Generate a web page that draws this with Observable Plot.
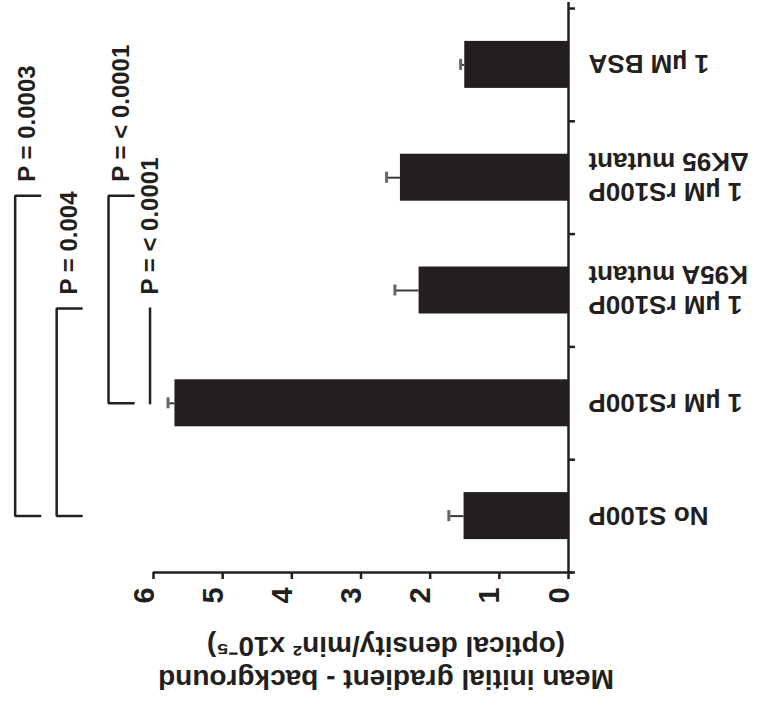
<!DOCTYPE html>
<html>
<head>
<meta charset="utf-8">
<script src="https://cdn.jsdelivr.net/npm/d3@7"></script>
<script src="https://cdn.jsdelivr.net/npm/@observablehq/plot@0.6"></script>
<style>
  html, body { margin: 0; padding: 0; background: #fff; }
  #chart svg { display: block; }
</style>
</head>
<body>
<div id="chart"></div>
<script>
// Treatment groups (index 0 sits next to the value axis), mean initial gradients and SEM
const groups = [
  "No S100P",
  "1 µM rS100P",
  "1 µM rS100P\nK95A mutant",
  "1 µM rS100P\nΔK95 mutant",
  "1 µM BSA"
];
const means = [1.51, 5.69, 2.16, 2.43, 1.50];
const errors = [0.22, 0.10, 0.35, 0.20, 0.06];

const valueTicks = [0, 1, 2, 3, 4, 5, 6];
const axisTitle = "Mean initial gradient - background\n(optical density/min² x10⁻⁵)";

// Pairwise comparisons: lower group, upper group, level on the value axis, p-value
const compareFrom = ["No S100P", "No S100P", "1 µM rS100P", "1 µM rS100P"];
const compareTo = ["1 µM rS100P\nΔK95 mutant", "1 µM rS100P\nK95A mutant", "1 µM rS100P\nΔK95 mutant", "1 µM rS100P\nK95A mutant"];
const compareLevel = [8.0, 7.4, 6.65, 6.05];
const compareP = ["P = 0.0003", "P = 0.004", "P = < 0.0001", "P = < 0.0001"];
const compareBracketed = [true, true, true, false];

// ---- layout ----
const W = 765, H = 708;
const mL = 153, mR = 197, mT = 8, mB = 136;
const ink = "#231f20";
const font = "'Liberation Sans', Arial, Helvetica, sans-serif";

const pxPerValue = (W - mL - mR) / 6;
const pxPerSlot = (H - mT - mB) / groups.length;
const px2v = (p) => p / pxPerValue;   // pixels -> value units
const px2s = (p) => p / pxPerSlot;    // pixels -> slot units

const pos = new Map(groups.map((g, i) => [g, i]));
const rows = groups.map((g, i) => ({group: g, mean: means[i], err: errors[i], i}));

const barHalf = px2s(23.5);
const capHalf = px2s(5.5);
const armLen = px2v(25);
const topShift = px2s(18);

// bracket polylines built from the comparison table
const bracketPts = [];
compareFrom.forEach((from, k) => {
  const lv = compareLevel[k];
  const yTop = pos.get(compareTo[k]) - topShift;
  const yBot = pos.get(from);
  const pts = compareBracketed[k]
    ? [[lv - armLen, yTop], [lv, yTop], [lv, yBot], [lv - armLen, yBot]]
    : [[lv, yTop], [lv, yBot]];
  pts.forEach(([x, y]) => bracketPts.push({x, y, k}));
});
const pLabels = compareP.map((p, k) => ({
  text: p,
  x: compareBracketed[k] ? compareLevel[k] - armLen / 2 : compareLevel[k],
  y: pos.get(compareTo[k]) - topShift
}));

const boundaries = groups.map((_, i) => i - 0.5).concat(groups.length - 0.5);

const chart = Plot.plot({
  width: W,
  height: H,
  marginLeft: mL,
  marginRight: mR,
  marginTop: mT,
  marginBottom: mB,
  x: {domain: [0, 6], reverse: true, axis: null},
  y: {domain: [-0.5, groups.length - 0.5], axis: null},
  style: {fontFamily: font, background: "#fff", overflow: "visible"},
  marks: [
    // bars
    Plot.rect(rows, {
      x1: 0, x2: "mean",
      y1: (d) => d.i - barHalf, y2: (d) => d.i + barHalf,
      fill: ink
    }),
    // error bars (outward only) with caps
    Plot.ruleY(rows, {y: "i", x1: "mean", x2: (d) => d.mean + d.err, stroke: "#3a3a3a", strokeWidth: 2}),
    Plot.ruleX(rows, {x: (d) => d.mean + d.err, y1: (d) => d.i - capHalf, y2: (d) => d.i + capHalf, stroke: "#666", strokeWidth: 3}),
    // category axis line and slot ticks
    Plot.ruleX([0], {stroke: ink, strokeWidth: 2.5, insetTop: -6}),
    Plot.ruleY(boundaries, {y: (d) => d, x1: 0, x2: -px2v(7), stroke: ink, strokeWidth: 2.5}),
    // value axis line and ticks
    Plot.ruleY([-0.5], {y: (d) => d, x1: px2v(-4), x2: 6, stroke: ink, strokeWidth: 2.5}),
    Plot.ruleX(valueTicks, {x: (d) => d, y1: -0.5, y2: -0.5 - px2s(7), stroke: ink, strokeWidth: 2.5}),
    // value tick labels
    Plot.text(valueTicks, {
      x: (d) => d, frameAnchor: "bottom", dy: 23, rotate: -90,
      text: (d) => String(d), textAnchor: "middle",
      fontSize: 29, fontWeight: "bold", fill: ink
    }),
    // group labels
    Plot.text(groups, {
      y: (d) => pos.get(d), frameAnchor: "right", dx: 20, rotate: 180,
      text: (d) => d, textAnchor: "end", lineHeight: 1.15,
      fontSize: 26, fontWeight: "bold", fill: ink
    }),
    // value axis title
    Plot.text([axisTitle], {
      frameAnchor: "bottom", dx: 25, dy: 64, rotate: 180,
      text: (d) => d, textAnchor: "middle", lineHeight: 1.2,
      fontSize: 28, fontWeight: "bold", fill: ink
    }),
    // significance brackets and p-values
    Plot.line(bracketPts, {x: "x", y: "y", z: "k", stroke: ink, strokeWidth: 2.5, strokeLinejoin: "miter", curve: "linear"}),
    Plot.text(pLabels, {
      x: "x", y: "y", dy: -14, rotate: -90, text: "text",
      textAnchor: "start", fontSize: 24, fontWeight: "bold", fill: ink
    })
  ]
});

document.getElementById("chart").appendChild(chart);
</script>
</body>
</html>
